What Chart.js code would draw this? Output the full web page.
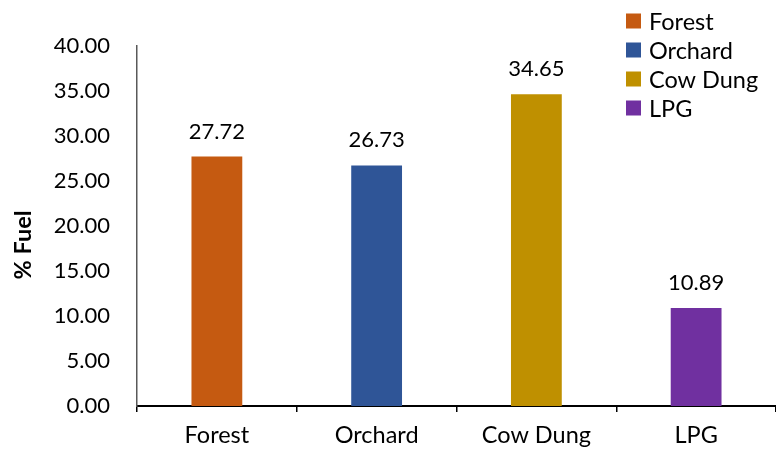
<!DOCTYPE html>
<html>
<head>
<meta charset="utf-8">
<script src="https://cdn.jsdelivr.net/npm/chart.js@4.4.1/dist/chart.umd.min.js"></script>
<style>
  html, body { margin: 0; padding: 0; background: #fff; }
  #wrap { width: 776px; height: 453px; }
</style>
</head>
<body>
<div id="wrap"><canvas id="c" width="776" height="453"></canvas></div>
<script>
const categories = ["Forest", "Orchard", "Cow Dung", "LPG"];
const fuelShare = [27.72, 26.73, 34.65, 10.89];
const barColors = ["#C55A11", "#2F5597", "#BF9000", "#7030A0"];
const yTicks = [0, 5, 10, 15, 20, 25, 30, 35, 40];

const FONT = "Lato, 'Open Sans', sans-serif";

// value labels over each bar
const valueLabels = {
  id: "valueLabels",
  afterDatasetsDraw(chart) {
    const ctx = chart.ctx;
    const meta = chart.getDatasetMeta(0);
    ctx.save();
    ctx.font = "22px " + FONT;
    ctx.fillStyle = "#000";
    ctx.textAlign = "center";
    ctx.textBaseline = "alphabetic";
    meta.data.forEach((bar, i) => {
      ctx.fillText(fuelShare[i].toFixed(2), bar.x, bar.y - 18);
    });
    ctx.restore();
  }
};

// category legend in the top right corner, plus the y title
const sideText = {
  id: "sideText",
  afterDraw(chart) {
    const ctx = chart.ctx;
    ctx.save();
    ctx.font = "23.5px " + FONT;
    ctx.textBaseline = "middle";
    ctx.textAlign = "left";
    categories.forEach((name, i) => {
      const cy = 21 + i * 29;
      ctx.fillStyle = barColors[i];
      ctx.fillRect(626, cy - 7.5, 15, 15);
      ctx.fillStyle = "#000";
      ctx.fillText(name, 649, cy + 1);
    });

    ctx.translate(23, 245);
    ctx.rotate(-Math.PI / 2);
    ctx.font = "bold 23.5px " + FONT;
    ctx.textAlign = "center";
    ctx.fillText("% Fuel", 0, 0);
    ctx.restore();
  }
};

new Chart(document.getElementById("c"), {
  type: "bar",
  data: {
    labels: categories,
    datasets: [{
      label: "% Fuel",
      data: fuelShare,
      backgroundColor: barColors,
      categoryPercentage: 1,
      barPercentage: 0.318
    }]
  },
  options: {
    responsive: false,
    animation: false,
    layout: { padding: { top: 46, right: 0, bottom: 0, left: 0 } },
    plugins: {
      legend: { display: false },
      tooltip: { enabled: false }
    },
    scales: {
      x: {
        afterFit: s => { s.height = 47; },
        grid: {
          offset: true,
          drawOnChartArea: false,
          drawTicks: true,
          tickLength: 6,
          color: "#000",
          lineWidth: 1.5
        },
        border: { color: "#000", width: 2 },
        ticks: {
          color: "#000",
          font: { family: FONT, size: 23.5 },
          padding: 9
        }
      },
      y: {
        min: 0,
        max: 40,
        afterFit: s => { s.width = 137; },
        afterBuildTicks: s => { s.ticks = yTicks.map(v => ({ value: v })); },
        grid: { display: false, drawTicks: false },
        border: { color: "#595959", width: 1.5 },
        ticks: {
          color: "#000",
          padding: 27,
          font: { family: FONT, size: 22 },
          callback: v => Number(v).toFixed(2)
        }
      }
    }
  },
  plugins: [valueLabels, sideText]
});
</script>
</body>
</html>
